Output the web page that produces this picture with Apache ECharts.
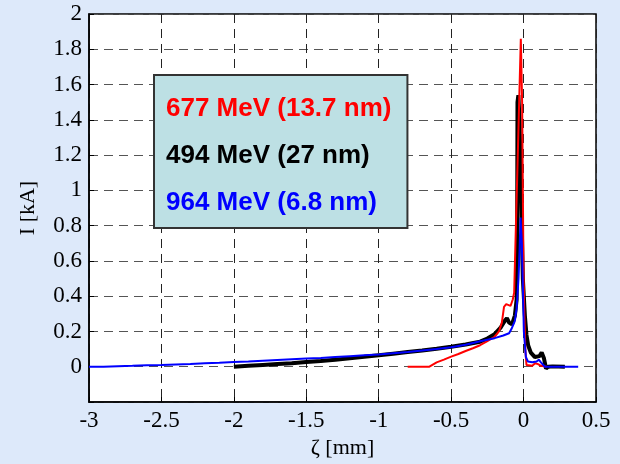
<!DOCTYPE html>
<html>
<head>
<meta charset="utf-8">
<script src="https://cdn.jsdelivr.net/npm/echarts@6/dist/echarts.min.js"></script>
<style>
html,body{margin:0;padding:0;background:#dde9fa;}
#chart{width:620px;height:464px;}
</style>
</head>
<body>
<div id="chart"></div>
<script>
// Series names
const seriesNames = ['677 MeV (13.7 nm)', '494 MeV (27 nm)', '964 MeV (6.8 nm)'];

// Red: 677 MeV
const zetaRed = [-0.80,-0.65,-0.60,-0.55,-0.50,-0.45,-0.40,-0.35,-0.30,-0.25,-0.20,-0.17,-0.15,-0.135,-0.12,-0.09,-0.075,-0.065,-0.04,-0.019,-0.01,0.0,0.005,0.012,0.02,0.025,0.06,0.08,0.10,0.12,0.16];
const currentRed = [0,0,0.025,0.04,0.057,0.072,0.089,0.105,0.122,0.145,0.17,0.2,0.25,0.34,0.355,0.345,0.38,0.42,1.2,1.86,1.5,0.5,0.3,0.1,0.01,0.005,0.005,0.02,0.015,0.005,0.0];

// Black: 494 MeV
const zetaBlack = [-2.0,-1.9,-1.8,-1.7,-1.6,-1.5,-1.4,-1.3,-1.2,-1.1,-1.0,-0.9,-0.8,-0.7,-0.6,-0.5,-0.4,-0.3,-0.25,-0.2,-0.16,-0.13,-0.115,-0.1,-0.08,-0.06,-0.048,-0.044,-0.042,-0.036,-0.028,-0.02,-0.014,-0.005,0.009,0.02,0.032,0.05,0.078,0.11,0.125,0.14,0.155,0.17,0.2,0.285];
const currentBlack = [0.0,0.005,0.01,0.015,0.02,0.027,0.033,0.04,0.048,0.056,0.065,0.074,0.083,0.092,0.102,0.113,0.126,0.142,0.16,0.185,0.22,0.26,0.275,0.25,0.24,0.29,0.38,0.8,1.5,1.54,1.4,1.1,0.85,0.5,0.29,0.18,0.12,0.08,0.055,0.06,0.08,0.05,-0.01,0.0,0.002,0.0];

// Blue: 964 MeV
const zetaBlue = [-3.0,-2.9,-2.8,-2.7,-2.6,-2.5,-2.4,-2.3,-2.2,-2.1,-2.0,-1.9,-1.8,-1.7,-1.6,-1.5,-1.4,-1.3,-1.2,-1.1,-1.0,-0.9,-0.8,-0.7,-0.6,-0.5,-0.4,-0.35,-0.3,-0.2,-0.14,-0.1,-0.083,-0.06,-0.048,-0.035,-0.028,-0.021,-0.012,-0.006,0.002,0.016,0.03,0.06,0.09,0.105,0.12,0.147,0.377];
const currentBlue = [0.0,0.0,0.003,0.005,0.008,0.01,0.013,0.016,0.02,0.023,0.027,0.03,0.034,0.038,0.042,0.046,0.05,0.055,0.06,0.065,0.07,0.077,0.084,0.092,0.10,0.11,0.125,0.135,0.145,0.162,0.177,0.19,0.215,0.26,0.33,0.5,0.65,0.846,0.7,0.5,0.2,0.055,0.03,0.025,0.03,0.04,0.025,0.0,0.0];

const seriesColors = ['#ff0000', '#000000', '#0000ff'];

function pairs(xs, ys) { return xs.map((x, i) => [x, ys[i]]); }

const chart = echarts.init(document.getElementById('chart'), null, {renderer: 'canvas'});
const serif = 'Liberation Serif';
const option = {
  backgroundColor: '#dde9fa',
  animation: false,
  grid: {left: 89, right: 24, top: 14, bottom: 60, show: true, backgroundColor: '#ffffff', borderColor: '#000', borderWidth: 1.5},
  xAxis: {
    type: 'value', min: -3, max: 0.5, interval: 0.5,
    name: 'ζ [mm]', nameLocation: 'middle', nameGap: 35,
    nameTextStyle: {fontFamily: serif, fontSize: 22, color: '#000'},
    axisLine: {show: true, onZero: false, lineStyle: {color: '#000', width: 1.5}},
    axisTick: {show: true, inside: true, length: 5, lineStyle: {color: '#000'}},
    axisLabel: {fontFamily: serif, fontSize: 23, color: '#000', margin: 7},
    splitLine: {show: true, lineStyle: {color: '#222', type: [9, 6], width: 1}}
  },
  yAxis: {
    type: 'value', min: -0.2, max: 2, interval: 0.2,
    name: 'I [kA]', nameLocation: 'middle', nameGap: 50,
    nameTextStyle: {fontFamily: serif, fontSize: 22, color: '#000'},
    axisLine: {show: true, onZero: false, lineStyle: {color: '#000', width: 1.5}},
    axisTick: {show: true, inside: true, length: 5, lineStyle: {color: '#000'}},
    axisLabel: {fontFamily: serif, fontSize: 23, color: '#000', margin: 7,
      formatter: v => v < -1e-9 ? '' : String(+v.toFixed(1))},
    splitLine: {show: true, lineStyle: {color: '#555', type: [9, 6], width: 1}}
  },
  legend: {
    orient: 'vertical', left: 154, top: 75,
    icon: 'none', itemWidth: 0, itemHeight: 30, itemGap: 17,
    padding: [19, 16, 10, 7],
    backgroundColor: '#bde0e4', borderColor: '#333', borderWidth: 2,
    selectedMode: false,
    textStyle: {fontFamily: 'Liberation Sans', fontWeight: 'bold', fontSize: 26, lineHeight: 30},
    data: seriesNames.map((n, i) => ({name: n, textStyle: {color: seriesColors[i]}}))
  },
  series: [
    {name: seriesNames[1], type: 'line', data: pairs(zetaBlack, currentBlack), showSymbol: false, color: seriesColors[1], lineStyle: {width: 4, color: seriesColors[1]}, z: 2},
    {name: seriesNames[0], type: 'line', data: pairs(zetaRed, currentRed), showSymbol: false, color: seriesColors[0], lineStyle: {width: 2, color: seriesColors[0]}, z: 3},
    {name: seriesNames[2], type: 'line', data: pairs(zetaBlue, currentBlue), showSymbol: false, color: seriesColors[2], lineStyle: {width: 2, color: seriesColors[2]}, z: 4}
  ]
};
chart.setOption(option);
</script>
</body>
</html>
